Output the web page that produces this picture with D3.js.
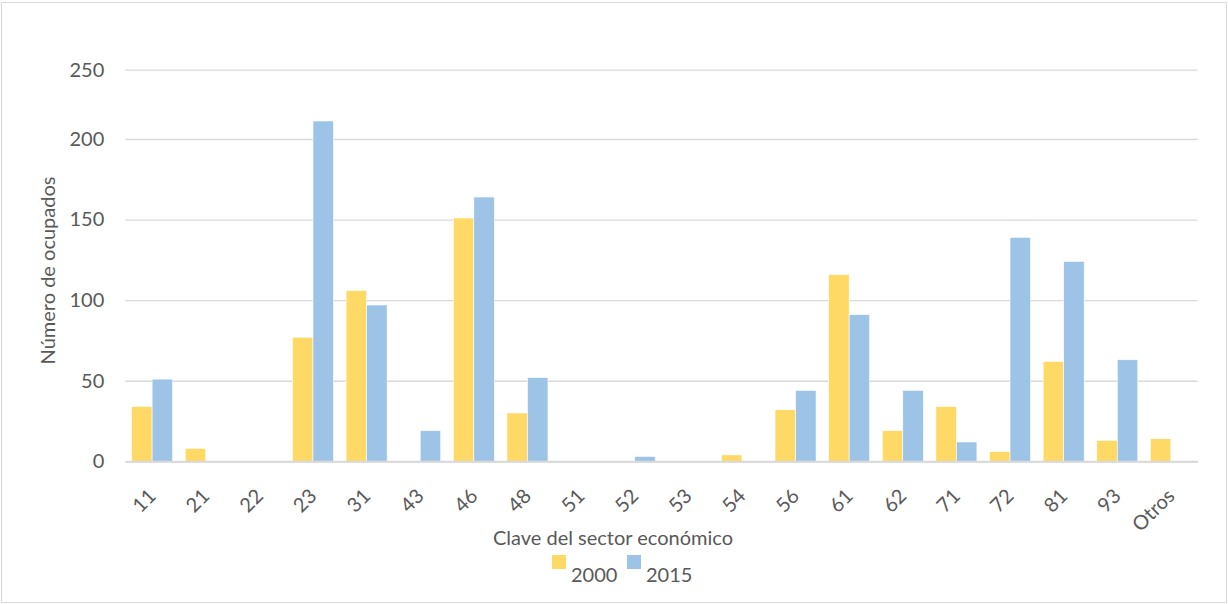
<!DOCTYPE html>
<html>
<head>
<meta charset="utf-8">
<script src="https://cdn.jsdelivr.net/npm/d3@7"></script>
<style>
  html, body { margin: 0; padding: 0; background: #fff; }
  svg { display: block; }
  text { font-family: Lato, "Open Sans", sans-serif; fill: #595959; }
</style>
</head>
<body>
<svg id="chart" width="1228" height="604"></svg>
<script>
const categories = ["11","21","22","23","31","43","46","48","51","52","53","54","56","61","62","71","72","81","93","Otros"];
const series = ["2000","2015"];
const values2000 = [34, 8, 0, 77, 106, 0, 151, 30, 0, 0, 0, 4, 32, 116, 19, 34, 6, 62, 13, 14];
const values2015 = [51, 0, 0, 213, 97, 19, 164, 52, 0, 3, 0, 0, 44, 91, 44, 12, 139, 124, 63, 0];
const yTicks = [0, 50, 100, 150, 200, 250];
const colors = ["#FFD966", "#9DC3E6"];

const svg = d3.select("#chart");

// outer frame
svg.append("rect")
  .attr("x", 1.5).attr("y", 2.5).attr("width", 1225).attr("height", 600)
  .attr("fill", "#fff").attr("stroke", "#d9d9d9").attr("stroke-width", 1);

const left = 125.3, right = 1197.7;
const x0 = d3.scaleBand().domain(categories).range([left, right]).paddingInner(0).paddingOuter(0);
const x1 = d3.scaleBand().domain(series).range([0, x0.bandwidth()]).paddingInner(0).paddingOuter(0.307);
const y = d3.scaleLinear().domain([0, 200, 250]).range([461.3, 139, 69.7]);

// gridlines
const yAxis = d3.axisLeft(y).tickValues(yTicks).tickSize(-(right - left)).tickPadding(21);
const gy = svg.append("g").attr("transform", `translate(${left},0)`).call(yAxis);
gy.select(".domain").remove();
gy.selectAll(".tick line").attr("stroke", "#d9d9d9").attr("stroke-width", 1.3);
gy.selectAll(".tick text").attr("font-size", 20).attr("fill", "#595959")
  .style("font-family", "Lato, 'Open Sans', sans-serif");

// data rows
const rows = categories.map((c, i) => ({ cat: c, vals: [values2000[i], values2015[i]] }));

const groups = svg.append("g").selectAll("g").data(rows).join("g")
  .attr("transform", d => `translate(${x0(d.cat)},0)`);
groups.selectAll("rect").data(d => d.vals.map((v, j) => ({ s: series[j], v, j })))
  .join("rect")
  .filter(d => d.v > 0)
  .attr("x", d => x1(d.s))
  .attr("width", x1.bandwidth())
  .attr("y", d => y(d.v))
  .attr("height", d => y(0) - y(d.v))
  .attr("fill", d => colors[d.j])
  .attr("stroke", "#ffffff").attr("stroke-width", 0.6);

// x axis line
const xAxis = d3.axisBottom(x0).tickSize(0).tickPadding(0);
const gx = svg.append("g").attr("transform", `translate(0,${y(0)})`).call(xAxis);
gx.select(".domain").attr("stroke", "#d9d9d9").attr("stroke-width", 2);
gx.selectAll(".tick text")
  .attr("font-size", 20).attr("fill", "#595959")
  .style("font-family", "Lato, 'Open Sans', sans-serif")
  .attr("text-anchor", "end")
  .attr("dy", 0)
  .attr("y", 0)
  .attr("transform", "translate(5,36) rotate(-45)");

// axis titles
svg.append("text")
  .attr("x", 613).attr("y", 545)
  .attr("text-anchor", "middle").attr("font-size", 20)
  .text("Clave del sector económico");

svg.append("text")
  .attr("transform", "translate(55,270.5) rotate(-90)")
  .attr("text-anchor", "middle").attr("font-size", 20)
  .text("Número de ocupados");

// legend
const legendX = [552, 627];
const lg = svg.append("g").selectAll("g").data(series).join("g")
  .attr("transform", (d, i) => `translate(${legendX[i]},555)`);
lg.append("rect").attr("width", 14).attr("height", 14).attr("fill", (d, i) => colors[i]);
lg.append("text").attr("x", 19).attr("y", 26.5).attr("font-size", 20).text(d => d);
</script>
</body>
</html>
